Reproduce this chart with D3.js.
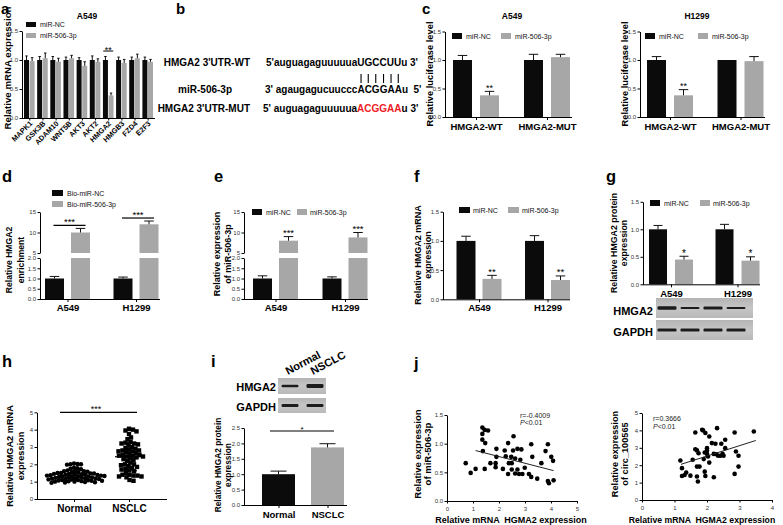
<!DOCTYPE html>
<html><head><meta charset="utf-8">
<script src="https://cdn.jsdelivr.net/npm/d3@7/dist/d3.min.js"></script>
<style>html,body{margin:0;padding:0;background:#fff;}svg{display:block;}</style>
</head><body>
<svg id="fig" width="783" height="525" xmlns="http://www.w3.org/2000/svg"></svg>
<script>
// ---------------- data ----------------
const legendNC = ["miR-NC", "miR-506-3p"];
const legendBio = ["Bio-miR-NC", "Bio-miR-506-3p"];

const aGenes = ["MAPK1","GSK3B","ADAM10","WNT5B","AKT3","AKT2","HMGA2","HMGB3","FZD4","E2F3"];
const aNC = [1,1,1,1,1,1,1,1,1,1];
const aNCErr = [0.07,0.06,0.06,0.05,0.04,0.07,0.06,0.05,0.05,0.05];
const aMiR = [0.98,1.03,0.97,1.03,0.9,0.97,0.39,0.95,1.03,0.97];
const aMiRErr = [0.06,0.09,0.06,0.05,0.07,0.05,0.04,0.06,0.07,0.04];
const aSig = ["","","","","","","**","","",""];

const bLabels = ["HMGA2 3'UTR-WT", "miR-506-3p", "HMGA2 3'UTR-MUT"];
const bSeqs = [["5'auguagaguuuuua","UGCCUU","u 3'"],
               ["3' agaugagucuuccc","ACGGAA","u  5'"],
               ["5' auguagaguuuuua","ACGGAA","u 3'"]];

const cCats = ["HMGA2-WT","HMGA2-MUT"];
const cA549NC = [1.0,1.0], cA549NCErr = [0.08,0.1];
const cA549MiR = [0.38,1.05], cA549MiRErr = [0.07,0.05];
const cH1299NC = [1.0,1.0], cH1299NCErr = [0.06,0.0];
const cH1299MiR = [0.38,0.98], cH1299MiRErr = [0.1,0.08];
const cSig = ["**",""];

const cells = ["A549","H1299"];
const dNC = [1.0,1.0], dNCErr = [0.1,0.07];
const dMiR = [10.0,12.0], dMiRErr = [1.0,0.8];
const eNC = [1.0,1.0], eNCErr = [0.13,0.08];
const eMiR = [8.0,8.8], eMiRErr = [1.0,1.2];
const fNC = [1.0,1.0], fNCErr = [0.08,0.09];
const fMiR = [0.35,0.33], fMiRErr = [0.06,0.07];
const gNC = [1.0,1.0], gNCErr = [0.07,0.09];
const gMiR = [0.45,0.43], gMiRErr = [0.06,0.07];
const gBlotHMGA2 = [1.0,0.6,0.95,0.65];
const gBlotGAPDH = [1.0,1.0,1.0,1.0];

const groups = ["Normal","NSCLC"];
const hNormal = [2.05,2.02,2.0,2.0,1.98,1.8,1.78,1.75,1.72,1.65,1.62,1.6,1.6,1.58,1.55,
  1.52,1.5,1.5,1.48,1.47,1.45,1.45,1.43,1.42,1.4,1.4,1.38,1.37,1.35,1.35,1.33,1.32,1.3,
  1.3,1.28,1.27,1.25,1.25,1.23,1.22,1.2,1.2,1.18,1.17,1.15,1.15,1.13,1.12,1.1,1.1,1.08,
  1.07,1.05,1.05,1.03,1.02,1.0,1.0,0.98,0.97,0.95,0.93];
const hNSCLC = [4.05,4.0,3.95,3.9,3.75,3.55,3.45,3.3,3.25,3.2,3.2,3.15,3.1,3.0,2.95,2.9,2.85,
  2.8,2.8,2.75,2.75,2.7,2.65,2.6,2.55,2.55,2.5,2.5,2.45,2.45,2.4,2.35,2.3,2.25,2.2,2.1,2.0,
  2.0,1.95,1.9,1.85,1.8,1.75,1.7,1.65,1.6,1.5,1.4,1.4,1.35,1.35,1.3,1.3,1.25,1.1,1.05];

const iVals = [1.0,1.87], iErr = [0.1,0.12];
const iBlotHMGA2 = [0.6,1.0];
const iBlotGAPDH = [1.0,1.0];

const jMiRX = [0.72,0.91,1.1,1.36,1.45,1.58,1.36,1.36,1.47,1.38,1.45,1.67,1.9,1.9,1.87,1.87,2.15,2.22,2.35,2.26,
  2.38,2.35,2.47,2.54,2.56,2.49,2.49,2.62,2.71,2.71,2.62,2.77,2.82,2.86,2.9,2.99,3.15,3.24,3.28,3.24,
  3.47,3.63,3.79,3.88,3.88,3.92,4.01,4.08,4.1];
const jMiRY = [0.66,0.49,0.56,1.28,1.24,1.23,1.17,1.07,1.01,0.87,0.56,0.66,0.91,0.77,0.66,0.59,0.56,0.88,1.01,0.78,
  0.66,0.47,0.77,0.88,1.13,0.66,0.55,0.74,0.91,0.55,0.48,0.47,0.72,0.9,0.47,0.58,0.47,0.99,0.77,0.42,
  0.39,0.66,0.87,0.99,0.35,0.31,0.77,0.7,0.36];
const jMiRFit = [[1.1,0.88],[4.1,0.53]];
const jCircX = [1.18,1.23,1.23,1.31,1.36,1.49,1.56,1.64,1.64,1.69,1.69,1.69,1.72,1.74,1.77,1.85,1.88,1.9,1.93,1.95,
  1.93,1.95,2.0,2.0,2.0,2.03,2.07,2.07,2.15,2.21,2.21,2.26,2.29,2.31,2.34,2.41,2.44,2.48,2.51,2.56,
  2.56,2.85,2.85,2.89,2.97,2.97,3.44];
const jCircY = [2.27,1.83,1.38,1.44,1.58,1.4,2.31,3.88,2.92,2.85,1.92,1.35,1.06,2.69,1.92,4.04,4.0,2.35,2.73,3.85,
  1.63,1.38,2.98,2.85,2.65,2.5,3.65,2.15,3.27,2.65,1.31,3.23,2.63,4.13,2.54,2.54,3.23,2.65,2.54,3.46,
  2.98,3.88,1.5,2.79,2.54,1.92,3.94];
const jCircFit = [[1.2,2.05],[3.5,3.42]];
const jMiRStats = ["r=-0.4009", "<0.01"];
const jCircStats = ["r=0.3666", "<0.01"];

// ---------------- helpers ----------------
const FONT = "Arial, 'Liberation Sans', Helvetica, sans-serif";
const BLACK = "#0b0b0b", GREY = "#a7a7a7";
const svg = d3.select("#fig").attr("font-family", FONT);
svg.append("rect").attr("width",783).attr("height",525).attr("fill","#fff");
const defs = svg.append("defs");
const grad = defs.append("linearGradient").attr("id","blotBg").attr("x1",0).attr("x2",0).attr("y1",0).attr("y2",1);
grad.append("stop").attr("offset","0%").attr("stop-color","#b4b4b4");
grad.append("stop").attr("offset","50%").attr("stop-color","#c6c6c6");
grad.append("stop").attr("offset","100%").attr("stop-color","#b8b8b8");
defs.append("filter").attr("id","blur").append("feGaussianBlur").attr("stdDeviation",0.6);

function text(x,y,s,size,opt={}){
  return svg.append("text").attr("x",x).attr("y",y).attr("font-size",size)
    .attr("font-weight",opt.bold?"bold":"normal").attr("text-anchor",opt.anchor||"start")
    .attr("fill",opt.fill||"#000").text(s);
}
function letter(x,y,s,size){ text(x,y,s,size||16.5,{bold:true}); }
function yTitle(lines, xs, cy, size){
  lines.forEach((l,i)=>svg.append("text").attr("transform",`translate(${xs[i]},${cy}) rotate(-90)`)
    .attr("text-anchor","middle").attr("font-size",size).attr("font-weight","bold").text(l));
}
function leftAxis(x, scale, ticks, fmt){
  const ax = svg.append("g").attr("transform",`translate(${x},0)`)
    .call(d3.axisLeft(scale).tickValues(ticks).tickFormat(fmt).tickSize(2.5).tickSizeOuter(0).tickPadding(1.5));
  ax.attr("font-family",FONT).attr("font-size",6);
  ax.select(".domain").attr("stroke","#000");
  ax.selectAll(".tick line").attr("stroke","#000");
  ax.selectAll(".tick text").attr("fill","#333");
  return ax;
}
function bottomAxis(y, scale, x0, x1, size, bold, opt={}){
  const axis = d3.axisBottom(scale).tickSize(opt.tick ?? 3).tickSizeOuter(0).tickPadding(opt.pad ?? 3);
  if (opt.ticks) axis.tickValues(opt.ticks);
  if (opt.fmt) axis.tickFormat(opt.fmt);
  const ax = svg.append("g").attr("transform",`translate(0,${y})`).call(axis);
  ax.attr("font-family",FONT).attr("font-size",size);
  ax.select(".domain").attr("d",`M${x0},0.5H${x1}`).attr("stroke","#000");
  ax.selectAll(".tick line").attr("stroke","#000");
  ax.selectAll(".tick text").attr("font-weight",bold?"bold":"normal").attr("fill",bold?"#000":"#333");
  return ax;
}
function errorBar(g, x, yS, v, e, capW){
  if (!(e>0)) return;
  g.append("line").attr("x1",x).attr("x2",x).attr("y1",yS(v)).attr("y2",yS(v+e)).attr("stroke","#111");
  g.append("line").attr("x1",x-capW/2).attr("x2",x+capW/2).attr("y1",yS(v+e)).attr("y2",yS(v+e)).attr("stroke","#111");
}
function barLeft(xS, c, si, n, w, gap){ return xS(c) - (n*w+(n-1)*gap)/2 + si*(w+gap); }
function groupedBars(xS, cats, yS, series, w, gap){
  series.forEach((s,si)=>{
    const g = svg.append("g");
    g.selectAll("rect").data(cats).join("rect")
      .attr("x",c=>barLeft(xS,c,si,series.length,w,gap)).attr("width",w)
      .attr("y",(c,i)=>yS(s.vals[i])).attr("height",(c,i)=>yS(0)-yS(s.vals[i])).attr("fill",s.fill);
    cats.forEach((c,i)=>errorBar(g, barLeft(xS,c,si,series.length,w,gap)+w/2, yS, s.vals[i], s.errs[i], w*0.5));
  });
}
function brokenBars(xS, cats, yLo, yHi, series, w, gap){
  const loMax = yLo.domain()[1], hiMin = yHi.domain()[0];
  series.forEach((s,si)=>{
    const g = svg.append("g");
    cats.forEach((c,i)=>{
      const x = barLeft(xS,c,si,series.length,w,gap), v = s.vals[i];
      if (v <= loMax){
        g.append("rect").attr("x",x).attr("width",w).attr("y",yLo(v)).attr("height",yLo(0)-yLo(v)).attr("fill",s.fill);
        errorBar(g, x+w/2, yLo, v, s.errs[i], w*0.5);
      } else {
        g.append("rect").attr("x",x).attr("width",w).attr("y",yLo(loMax)).attr("height",yLo(0)-yLo(loMax)).attr("fill",s.fill);
        g.append("rect").attr("x",x).attr("width",w).attr("y",yHi(v)).attr("height",yHi(hiMin)-yHi(v)).attr("fill",s.fill);
        errorBar(g, x+w/2, yHi, v, s.errs[i], w*0.5);
      }
    });
  });
}
function legendItem(x,y,w,h,fill,label,size,tx){
  svg.append("rect").attr("x",x).attr("y",y).attr("width",w).attr("height",h).attr("fill",fill);
  text(tx, y+h, label, size, {fill:"#111"});
}
function blot(x,y,w,h,lanes,vals,bandW,maxH){
  svg.append("rect").attr("x",x).attr("y",y).attr("width",w).attr("height",h).attr("fill","url(#blotBg)");
  const g = svg.append("g").attr("filter","url(#blur)");
  vals.forEach((v,i)=>{
    const bh = Math.max(1.4, maxH*v);
    g.append("rect").attr("x",lanes(i)-bandW/2).attr("y",y+h/2-bh/2).attr("width",bandW).attr("height",bh)
      .attr("rx",1.2).attr("fill","#1e1e1e");
  });
}
function swarm(vals, yS, cx, d){
  const pts = vals.map(v=>({v, y:yS(v)})).sort((a,b)=>b.v-a.v);
  const placed = [];
  pts.forEach(p=>{
    for (let k=0;;k++){
      const cands = k===0 ? [0] : [k,-k];
      let done = false;
      for (const off of cands){
        const x = cx + off*0.5;
        if (placed.every(q=>(q.x-x)**2+(q.y-p.y)**2 >= d*d)){ p.x = x; done = true; break; }
      }
      if (done) break;
    }
    placed.push(p);
  });
  return placed;
}
const f1 = d3.format(".1f"), f0 = d3.format("d");

// ---------------- panel a ----------------
letter(1,14,"a",15);
const yA = d3.scaleLinear().domain([0,1.5]).range([118,31]);
const xA = d3.scalePoint().domain(aGenes).range([29.3,147.7]);
leftAxis(22, yA, [0,0.5,1,1.5], f1);
groupedBars(xA, aGenes, yA, [{vals:aNC,errs:aNCErr,fill:BLACK},{vals:aMiR,errs:aMiRErr,fill:GREY}], 5, 0.6);
const axA = bottomAxis(118, xA, 22, 155, 7.3, true, {tick:2.5});
axA.selectAll(".tick text").attr("y",0).attr("dy",0).attr("x",0).attr("text-anchor","end")
  .attr("transform","translate(3,6) rotate(-45)");
aSig.forEach((s,i)=>{
  if (!s) return;
  const cx = xA(aGenes[i]);
  const top = yA(Math.max(aNC[i]+aNCErr[i], aMiR[i]+aMiRErr[i]));
  svg.append("line").attr("x1",cx-5).attr("x2",cx+5).attr("y1",top-5.5).attr("y2",top-5.5).attr("stroke","#000");
  text(cx, top-3.5, s, 9, {anchor:"middle"});
});
text(87,18.5,"A549",8.5,{bold:true,anchor:"middle"});
legendItem(26,22,10,5,BLACK,legendNC[0],7,40);
legendItem(26,33,10,5,GREY,legendNC[1],7,40);
yTitle(["Relative mRNA expression"],[10.5],68,9.7);

// ---------------- panel b ----------------
letter(176,14,"b",15);
const bRowY = [65.5, 92.5, 111.5];
const bLabelX = [250, 232, 250];
const bStartX = [266, 265, 263];
bLabels.forEach((l,i)=>text(bLabelX[i], bRowY[i], l, 10, {bold:true, anchor:"end"}));
const seqNodes = bSeqs.map((parts,i)=>{
  const t = svg.append("text").attr("x",bStartX[i]).attr("y",bRowY[i]).attr("font-size",10)
    .attr("font-weight","bold").style("white-space","pre");
  parts.forEach((p,j)=>t.append("tspan").text(p).attr("fill",(i===2 && j===1) ? "#ee1c25" : "#000"));
  return t;
});
(function(){
  const node = seqNodes[1].node();
  const start = bSeqs[1][0].length;
  for (let k=0;k<bSeqs[1][1].length;k++){
    const ext = node.getExtentOfChar(start+k);
    const cx = ext.x + ext.width/2;
    svg.append("line").attr("x1",cx).attr("x2",cx).attr("y1",74).attr("y2",83).attr("stroke","#000").attr("stroke-width",1.1);
  }
})();

// ---------------- panel c ----------------
letter(422,14,"c",15);
const yC = d3.scaleLinear().domain([0,1.5]).range([117,31.5]);
function lucPanel(axisX, cRange, xEnd, title, titleX, nc, ncErr, mir, mirErr, legX, titleBase){
  const xS = d3.scalePoint().domain(cCats).range(cRange);
  leftAxis(axisX, yC, [0,0.5,1,1.5], f1);
  groupedBars(xS, cCats, yC, [{vals:nc,errs:ncErr,fill:BLACK},{vals:mir,errs:mirErr,fill:GREY}], 19, 8);
  bottomAxis(117, xS, axisX, xEnd, 9.5, true, {pad:3.5});
  cSig.forEach((s,i)=>{
    if (!s) return;
    const cx = barLeft(xS,cCats[i],1,2,19,8)+9.5;
    text(cx, yC(mir[i]+mirErr[i])-0.5, s, 9, {anchor:"middle"});
  });
  text(titleX,18.5,title,8.5,{bold:true,anchor:"middle"});
  legendItem(legX[0],33,10,6,BLACK,legendNC[0],7,legX[0]+14);
  legendItem(legX[1],33,10,6,GREY,legendNC[1],7,legX[1]+14);
  yTitle(["Relative luciferase level"],[titleBase],74,9.3);
}
lucPanel(445,[476,547],572,"A549",512,cA549NC,cA549NCErr,cA549MiR,cA549MiRErr,[452,501],433);
lucPanel(640,[670,740.5],765,"H1299",697,cH1299NC,cH1299NCErr,cH1299MiR,cH1299MiRErr,[645,698],628);

// ---------------- panel d ----------------
letter(2,182,"d");
const yDlo = d3.scaleLinear().domain([0,2]).range([299,258]);
const yDhi = d3.scaleLinear().domain([5,15]).range([253,212]);
leftAxis(40, yDlo, [0,0.5,1,1.5,2], f1);
leftAxis(40, yDhi, [5,10,15], f0);
const xD = d3.scalePoint().domain(cells).range([67.5,136]);
brokenBars(xD, cells, yDlo, yDhi, [{vals:dNC,errs:dNCErr,fill:BLACK},{vals:dMiR,errs:dMiRErr,fill:GREY}], 19, 7);
bottomAxis(299, xD, 40, 160, 9.5, true, {pad:2});
cells.forEach((c,i)=>{
  const cx = xD(c), ly = yDhi(dMiR[i]+dMiRErr[i]) - 3;
  svg.append("line").attr("x1",cx-14).attr("x2",cx+18).attr("y1",ly).attr("y2",ly).attr("stroke","#000").attr("stroke-width",1.2);
  text(cx+2, ly-0.5, "***", 9.5, {anchor:"middle"});
});
legendItem(52,190,11,6,BLACK,legendBio[0],7,67);
legendItem(52,201,11,6,GREY,legendBio[1],7,67);
yTitle(["Relative HMGA2","enrichment"],[12,24],260,8.6);

// ---------------- panel e ----------------
letter(214,181.5,"e");
const yElo = d3.scaleLinear().domain([0,2]).range([299,258]);
const yEhi = d3.scaleLinear().domain([5,15]).range([253,212]);
leftAxis(244, yElo, [0,0.5,1,1.5,2], f1);
leftAxis(244, yEhi, [5,10,15], f0);
const xE = d3.scalePoint().domain(cells).range([275.5,345]);
brokenBars(xE, cells, yElo, yEhi, [{vals:eNC,errs:eNCErr,fill:BLACK},{vals:eMiR,errs:eMiRErr,fill:GREY}], 19, 7);
bottomAxis(299, xE, 244, 368, 9.5, true, {pad:2});
cells.forEach((c,i)=>{
  const cx = barLeft(xE,c,1,2,19,7)+9.5;
  text(cx, yEhi(eMiR[i]+eMiRErr[i])-0.5, "***", 9.5, {anchor:"middle"});
});
legendItem(252,209,10,6,BLACK,legendNC[0],7,266);
legendItem(297,209,10,6,GREY,legendNC[1],7,310);
yTitle(["Relative expression","of miR-506-3p"],[220,231],254,9);

// ---------------- panel f ----------------
letter(414,182,"f");
const yF = d3.scaleLinear().domain([0,1.5]).range([299.3,211.7]);
leftAxis(443, yF, [0,0.5,1,1.5], f1);
const xF = d3.scalePoint().domain(cells).range([479,547.5]);
groupedBars(xF, cells, yF, [{vals:fNC,errs:fNCErr,fill:BLACK},{vals:fMiR,errs:fMiRErr,fill:GREY}], 19, 7);
bottomAxis(299.3, xF, 443, 570, 9.5, true, {pad:2});
cells.forEach((c,i)=>{
  const cx = barLeft(xF,c,1,2,19,7)+9.5;
  text(cx, yF(fMiR[i]+fMiRErr[i])-0.5, "**", 9.5, {anchor:"middle"});
});
legendItem(459,207,11,6,BLACK,legendNC[0],7,473);
legendItem(508,207,11,6,GREY,legendNC[1],7,522);
yTitle(["Relative HMGA2 mRNA","expression"],[421,431],255,9);

// ---------------- panel g ----------------
letter(606,182,"g");
const yG = d3.scaleLinear().domain([0,1.5]).range([284.3,201.8]);
leftAxis(643, yG, [0,0.5,1,1.5], f1);
const xG = d3.scalePoint().domain(cells).range([671,737.5]);
groupedBars(xG, cells, yG, [{vals:gNC,errs:gNCErr,fill:BLACK},{vals:gMiR,errs:gMiRErr,fill:GREY}], 18, 8);
bottomAxis(284.3, xG, 643, 760, 9.5, true, {pad:3});
cells.forEach((c,i)=>{
  const cx = barLeft(xG,c,1,2,18,8)+9;
  text(cx, yG(gMiR[i]+gMiRErr[i])+0.5, "*", 10, {anchor:"middle"});
});
legendItem(650,200,10,6,BLACK,legendNC[0],7,664);
legendItem(700,200,10,6,GREY,legendNC[1],7,713);
yTitle(["Relative HMGA2 protein","expression"],[617,627],243,8.8);
const gLanes = d3.scalePoint().domain(d3.range(gBlotHMGA2.length)).range([667,736]);
blot(656,298,97,20,gLanes,gBlotHMGA2,19,3.4);
blot(656,320,97,20,gLanes,gBlotGAPDH,19,3.2);
text(653,315,"HMGA2",11,{bold:true,anchor:"end"});
text(653,336,"GAPDH",11,{bold:true,anchor:"end"});

// ---------------- panel h ----------------
letter(2,367,"h");
const yH = d3.scaleLinear().domain([0,5]).range([499,412.3]);
leftAxis(37, yH, [0,1,2,3,4,5], f0);
const xH = d3.scalePoint().domain(groups).range([74,129]);
bottomAxis(499, xH, 37, 167, 10, true, {pad:3});
const hN = swarm(hNormal, yH, xH("Normal"), 3.4);
svg.append("g").selectAll("circle").data(hN).join("circle")
  .attr("cx",d=>d.x).attr("cy",d=>d.y).attr("r",2.2).attr("fill","#000");
const hS = swarm(hNSCLC, yH, xH("NSCLC"), 3.9);
svg.append("g").selectAll("rect").data(hS).join("rect")
  .attr("x",d=>d.x-2.2).attr("y",d=>d.y-2.2).attr("width",4.4).attr("height",4.4).attr("fill","#000");
[[hNormal,"Normal",16],[hNSCLC,"NSCLC",14]].forEach(([vals,gname,hw])=>{
  const m = d3.mean(vals), sd = d3.deviation(vals), cx = xH(gname);
  const g = svg.append("g").attr("stroke","#000").attr("stroke-width",1.2);
  g.append("line").attr("x1",cx-hw).attr("x2",cx+hw).attr("y1",yH(m)).attr("y2",yH(m));
  g.append("line").attr("x1",cx).attr("x2",cx).attr("y1",yH(m-sd)).attr("y2",yH(m+sd));
  [m-sd,m+sd].forEach(v=>g.append("line").attr("x1",cx-8).attr("x2",cx+8).attr("y1",yH(v)).attr("y2",yH(v)));
});
svg.append("line").attr("x1",60).attr("x2",137).attr("y1",yH(5)).attr("y2",yH(5)).attr("stroke","#000").attr("stroke-width",1.2);
text(96, yH(5)-0.5, "***", 9, {anchor:"middle"});
yTitle(["Relative HMGA2 mRNA","expression"],[13,24],456,9.2);

// ---------------- panel i ----------------
letter(211,366.5,"i");
const iLanes = d3.scalePoint().domain(groups).range([290,315]);
groups.forEach(gname=>{
  svg.append("text").attr("transform",`translate(${iLanes(gname)-2},375) rotate(-28)`)
    .attr("font-size",11).attr("font-weight","bold").text(gname);
});
const iLaneIdx = d3.scalePoint().domain(d3.range(2)).range([290,315]);
blot(278,378,48,16,iLaneIdx,iBlotHMGA2,17,4);
blot(278,398,48,15,iLaneIdx,iBlotGAPDH,17,3);
text(276,391,"HMGA2",11,{bold:true,anchor:"end"});
text(276,411,"GAPDH",11,{bold:true,anchor:"end"});
const yI = d3.scaleLinear().domain([0,2.5]).range([505,428]);
leftAxis(244, yI, [0,0.5,1,1.5,2,2.5], f1);
const xI = d3.scalePoint().domain(groups).range([278.5,327.5]);
const iG = svg.append("g");
iG.selectAll("rect").data(groups).join("rect")
  .attr("x",d=>xI(d)-16.5).attr("width",33)
  .attr("y",(d,i)=>yI(iVals[i])).attr("height",(d,i)=>yI(0)-yI(iVals[i]))
  .attr("fill",(d,i)=>i===0?BLACK:GREY);
groups.forEach((gname,i)=>errorBar(iG, xI(gname), yI, iVals[i], iErr[i], 16));
bottomAxis(505, xI, 244, 347, 9.5, true, {pad:3});
svg.append("line").attr("x1",270).attr("x2",334).attr("y1",431).attr("y2",431).attr("stroke","#000").attr("stroke-width",1.2);
text(302,431.5,"*",8,{anchor:"middle"});
yTitle(["Relative HMGA2 protein","expression"],[221,231],465,8.3);

// ---------------- panel j ----------------
letter(414,369,"j");
function scatterPanel(axisX, yS, xS, yTicks, yFmt, xTicks, xs, ys, fit, stats, statX, statY, xTitleX, xTitleSize, yLines, yXs, yTitleSize){
  leftAxis(axisX, yS, yTicks, yFmt);
  bottomAxis(yS.range()[0], xS, axisX, xS.range()[1], 6, false, {tick:2.5, pad:3, ticks:xTicks, fmt:f0});
  svg.append("g").selectAll("circle").data(xs).join("circle")
    .attr("cx",d=>xS(d)).attr("cy",(d,i)=>yS(ys[i])).attr("r",2.3).attr("fill","#000");
  svg.append("line").attr("x1",xS(fit[0][0])).attr("y1",yS(fit[0][1])).attr("x2",xS(fit[1][0])).attr("y2",yS(fit[1][1]))
    .attr("stroke","#222").attr("stroke-width",1);
  text(statX, statY, stats[0], 7, {fill:"#222"});
  const p = svg.append("text").attr("x",statX).attr("y",statY+7.5).attr("font-size",7).attr("fill","#222");
  p.append("tspan").attr("font-style","italic").text("P");
  p.append("tspan").text(stats[1]);
  text(xTitleX, 523, "Relative mRNA  HGMA2 expression", xTitleSize, {bold:true, anchor:"middle"}).style("white-space","pre");
  yTitle(yLines, yXs, 454, yTitleSize);
}
scatterPanel(447, d3.scaleLinear().domain([0,1.5]).range([501,415]), d3.scaleLinear().domain([0,5]).range([447,577]),
  [0,0.5,1,1.5], f1, [0,1,2,3,4,5], jMiRX, jMiRY, jMiRFit, jMiRStats, 520, 417.5, 511, 9,
  ["Relative expression","of miR-506-3p"], [421,431], 9.5);
scatterPanel(642, d3.scaleLinear().domain([0,5]).range([500,413]), d3.scaleLinear().domain([0,4]).range([642,772]),
  [0,1,2,3,4,5], f0, [0,1,2,3,4], jCircX, jCircY, jCircFit, jCircStats, 653, 421, 702, 8.7,
  ["Relative expression","of circ_100565"], [618,628], 9.2);
</script>
</body></html>
